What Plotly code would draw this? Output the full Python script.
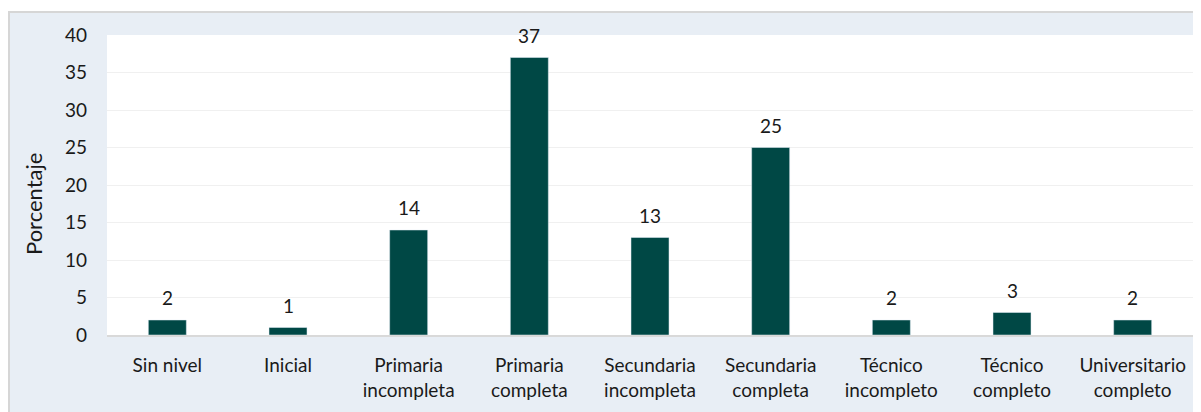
import plotly.graph_objects as go

categories = ["Sin nivel", "Inicial", "Primaria<br>incompleta", "Primaria<br>completa",
              "Secundaria<br>incompleta", "Secundaria<br>completa", "Técnico<br>incompleto",
              "Técnico<br>completo", "Universitario<br>completo"]
values = [2, 1, 14, 37, 13, 25, 2, 3, 2]
y_ticks = [0, 5, 10, 15, 20, 25, 30, 35, 40]

# page is offset by the 8px body margin
OFF = 8
W, H = 1193, 404
L, R, T, B = 99, 8, 27, 77
pw, ph = W - L - R, H - T - B

def px_x(p):  # p in figure pixels
    return (p - L) / pw

def px_y(p):
    return (H - B - p) / ph

FONT = "Lato"
FS = 19
TXT = "#1a1a1a"
fig = go.Figure(go.Bar(
    x=categories, y=values, marker_color="#004845",
))

annotations = [
    dict(x=c, y=v, xref="x", yref="y", text=str(v), showarrow=False,
         yanchor="bottom", yshift=9, font=dict(family=FONT, size=FS, color=TXT))
    for c, v in zip(categories, values)
]
annotations.append(dict(x=px_x(33 - OFF), y=px_y(204 - OFF), xref="paper", yref="paper",
                        text="Porcentaje", textangle=-90, showarrow=False,
                        xanchor="center", yanchor="middle",
                        font=dict(family=FONT, size=22, color=TXT)))

fig.update_layout(
    width=W, height=H,
    margin=dict(l=L, r=R, t=T, b=B),
    paper_bgcolor="#e8eef5",
    plot_bgcolor="#ffffff",
    bargap=0.685,
    showlegend=False,
    font=dict(family=FONT, size=FS, color=TXT),
    annotations=annotations,
    yaxis=dict(range=[0, 40], tickvals=y_ticks, showgrid=True, gridcolor="#f0f0f0",
               gridwidth=1, zeroline=False, ticks="", ticklabelstandoff=19,
               automargin=False, tickfont=dict(family=FONT, size=FS, color=TXT)),
    xaxis=dict(showgrid=False, ticks="", showline=True, linecolor="#d9d9d9", linewidth=2,
               automargin=False, tickfont=dict(family=FONT, size=FS, color=TXT),
               ticklabelstandoff=12),
    shapes=[
        dict(type="rect", xref="paper", yref="paper", x0=px_x(-5), x1=px_x(W + 5),
             y0=px_y(3), y1=px_y(-5), fillcolor="#ffffff", line=dict(width=0), layer="below"),
        dict(type="line", xref="paper", yref="paper", x0=px_x(0), x1=px_x(W + 5),
             y0=px_y(4), y1=px_y(4), line=dict(color="#d6d6d6", width=2)),
        dict(type="line", xref="paper", yref="paper", x0=px_x(1), x1=px_x(1),
             y0=px_y(4), y1=px_y(H + 5), line=dict(color="#d6d6d6", width=2)),
    ],
)

fig.write_html("out.html")
